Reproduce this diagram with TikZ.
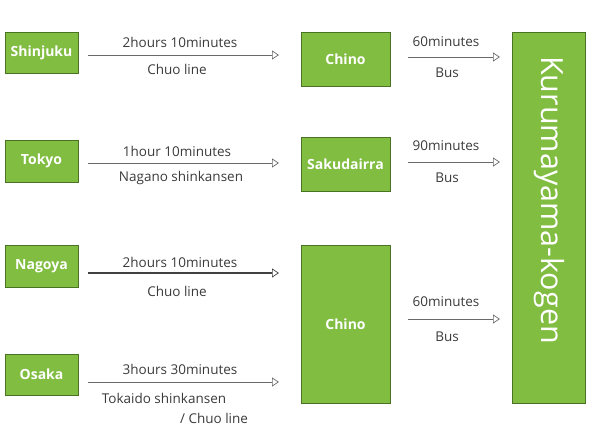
\documentclass[tikz,border=0pt]{standalone}
\usepackage{fontspec}
\setmainfont{Open Sans}
\usetikzlibrary{arrows.meta}
\definecolor{boxgreen}{HTML}{80BD41}
\definecolor{boxedge}{HTML}{4A7424}
\definecolor{txtgray}{HTML}{3A3A3A}
\definecolor{linegray}{HTML}{6A6A6A}
\begin{document}
\begin{tikzpicture}[x=1pt,y=-1pt,
  gbox/.style={fill=boxgreen,draw=boxedge,line width=0.6pt,text=white,font=\fontsize{14}{16}\selectfont\bfseries,inner sep=0pt},
  lab/.style={text=txtgray,font=\fontsize{13.5}{15}\selectfont,inner sep=0pt},
  conn/.style={draw=linegray,line width=0.7pt,-{Triangle[open,length=7pt,width=9pt,fill=white]}},
  connb/.style={draw=black!75,line width=1.3pt,-{Triangle[open,length=7pt,width=9pt,fill=white,line width=0.7pt]}}]
\useasboundingbox (0,0) rectangle (595,440);
% origin boxes
\node[gbox,minimum width=73pt,minimum height=41pt] (shin) at (41.5,52.5) {Shinjuku};
\node[gbox,minimum width=73pt,minimum height=42pt] (tok) at (41.5,161) {Tokyo};
\node[gbox,minimum width=73pt,minimum height=42pt] (nag) at (41.5,266) {Nagoya};
\node[gbox,minimum width=73pt,minimum height=41pt] (osa) at (41.5,374.5) {Osaka};
% middle boxes
\node[gbox,minimum width=89pt,minimum height=54pt] (chino1) at (345.5,59) {Chino};
\node[gbox,minimum width=89pt,minimum height=54pt] (saku) at (345.5,164) {Sakudairra};
\node[gbox,minimum width=89pt,minimum height=158pt] (chino2) at (345.5,324) {Chino};
% destination
\node[gbox,minimum width=73pt,minimum height=371pt] (kuru) at (548.5,217.5) {};
\node[text=white,rotate=-90,font=\fontsize{30.5}{33}\selectfont,inner sep=0pt] (kurul) at (549,200) {Kurumayama-kogen};
% arrow anchor coordinates
\coordinate (a1s) at (88,55); \coordinate (a1e) at (279,55);
\coordinate (a2s) at (88,163); \coordinate (a2e) at (279,163);
\coordinate (a3s) at (88,273); \coordinate (a3e) at (279,273);
\coordinate (a4s) at (88,382); \coordinate (a4e) at (279,382);
\coordinate (b1s) at (408,57); \coordinate (b1e) at (500,57);
\coordinate (b2s) at (408,162); \coordinate (b2e) at (500,162);
\coordinate (b3s) at (408,319); \coordinate (b3e) at (500,319);
\draw[conn] (a1s) -- (a1e);
\draw[conn] (a2s) -- (a2e);
\draw[connb] (a3s) -- (a3e);
\draw[conn] (a4s) -- (a4e);
\draw[conn] (b1s) -- (b1e);
\draw[conn] (b2s) -- (b2e);
\draw[conn] (b3s) -- (b3e);
% labels
\node[lab] (l1a) at (180,42) {2hours 10minutes};
\node[lab] (l1b) at (177,69) {Chuo line};
\node[lab] (l2a) at (177,151) {1hour 10minutes};
\node[lab] (l2b) at (181,178) {Nagano shinkansen};
\node[lab] (l3a) at (180,262) {2hours 10minutes};
\node[lab] (l3b) at (177,291) {Chuo line};
\node[lab] (l4a) at (180,369) {3hours 30minutes};
\node[lab] (l4b) at (164,398) {Tokaido shinkansen};
\node[lab] (l4c) at (214,418) {/ Chuo line};
\node[lab] (r1a) at (446,42) {60minutes};
\node[lab] (r1b) at (447,73) {Bus};
\node[lab] (r2a) at (446,146) {90minutes};
\node[lab] (r2b) at (447,178) {Bus};
\node[lab] (r3a) at (446,302) {60minutes};
\node[lab] (r3b) at (447,337) {Bus};
\end{tikzpicture}
\end{document}
